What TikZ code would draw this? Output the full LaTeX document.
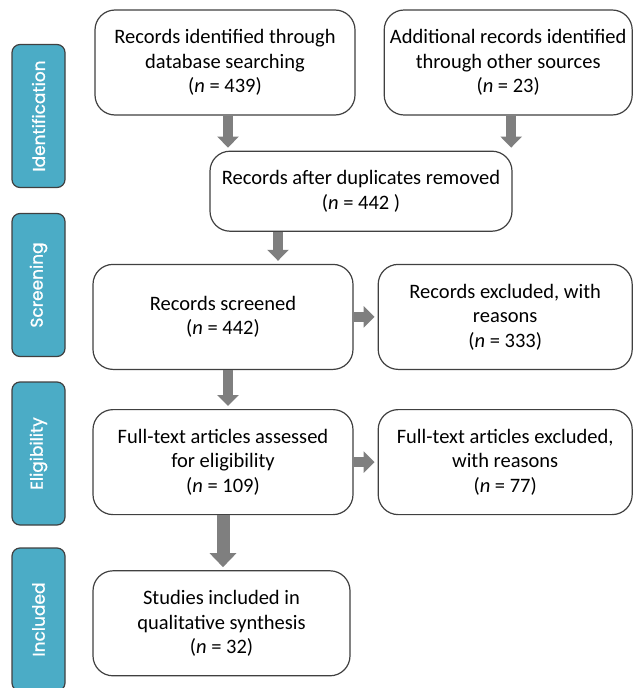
\documentclass[tikz,border=0pt]{standalone}
\usepackage{fontspec}
\setmainfont{Carlito}
\newfontfamily\stagefont[FakeBold=1]{Poppins}
\usetikzlibrary{positioning}
\usetikzlibrary{arrows.meta}
\definecolor{stageblue}{HTML}{4BACC6}
\definecolor{boxline}{HTML}{404040}
\definecolor{flowgray}{HTML}{7F7F7F}
\tikzset{
  record/.style={rectangle,rounded corners=20pt,draw=boxline,line width=1.2pt,
                 fill=white,minimum height=105pt,align=center,
                 font=\fontsize{20.5}{24.5}\selectfont},
  stage/.style={rectangle,rounded corners=8pt,draw=boxline,line width=1.2pt,
                fill=stageblue,rotate=90,minimum width=143pt,minimum height=53pt,
                text=white,font=\stagefont\fontsize{17}{20}\selectfont},
  flow/.style={draw=flowgray,line width=10pt,
               -{Triangle[length=11pt,width=21pt]},shorten >=3pt},
  bigflow/.style={flow,line width=13pt,-{Triangle[length=14pt,width=26pt]}},
}

\begin{document}
\begin{tikzpicture}[x=1pt,y=1pt]
  \useasboundingbox (0,0) rectangle (632,-688);
  % stages
  \node[stage] (iden)  at (38.5,-116)   {Identification};
  \node[stage] (scrn)  at (38.5,-285)   {Screening};
  \node[stage] (elig)  at (38.5,-453.5) {Eligibility};
  \node[stage] (inclu) at (38.5,-619.5) {Included};

  % records
  \node[record,minimum width=260pt] (db) at (225,-62.5)
    {Records identified through\\database searching\\(\textit{n} = 439)};
  \node[record,minimum width=248pt] (other) [right=28pt of db]
    {Additional records identified\\through other sources\\(\textit{n} = 23)};
  \node[record,minimum width=302pt,minimum height=80pt] (dup)
    [below=35pt of db,xshift=136pt]
    {Records after duplicates removed\\(\textit{n} = 442 )};
  \node[record,minimum width=260pt] (screen) [below=32pt of dup,xshift=-138pt]
    {Records screened\\(\textit{n} = 442)};
  \node[record,minimum width=254pt] (excl) [right=24pt of screen]
    {Records excluded, with\\reasons\\(\textit{n} = 333)};
  \node[record,minimum width=260pt] (full) [below=39pt of screen]
    {Full-text articles assessed\\for eligibility\\(\textit{n} = 109)};
  \node[record,minimum width=254pt] (fexcl) [right=24pt of full]
    {Full-text articles excluded,\\with reasons\\(\textit{n} = 77)};
  \node[record,minimum width=257pt] (incl) [below=55pt of full,xshift=-1.5pt]
    {Studies included in\\qualitative synthesis\\(\textit{n} = 32)};

  % flows
  \draw[flow] ([xshift=3pt]db.south) -- ([xshift=3pt]db.south |- dup.north);
  \draw[flow] ([xshift=3pt]other.south) -- ([xshift=3pt]other.south |- dup.north);
  \draw[flow] ([xshift=55pt]screen.north |- dup.south) -- ([xshift=55pt]screen.north);
  \draw[flow] ([xshift=5pt]screen.south) -- ([xshift=5pt]screen.south |- full.north);
  \draw[flow] (screen.east) -- (excl.west);
  \draw[flow] (full.east) -- (fexcl.west);
  \draw[bigflow] (full.south) -- (full.south |- incl.north);
\end{tikzpicture}
\end{document}
